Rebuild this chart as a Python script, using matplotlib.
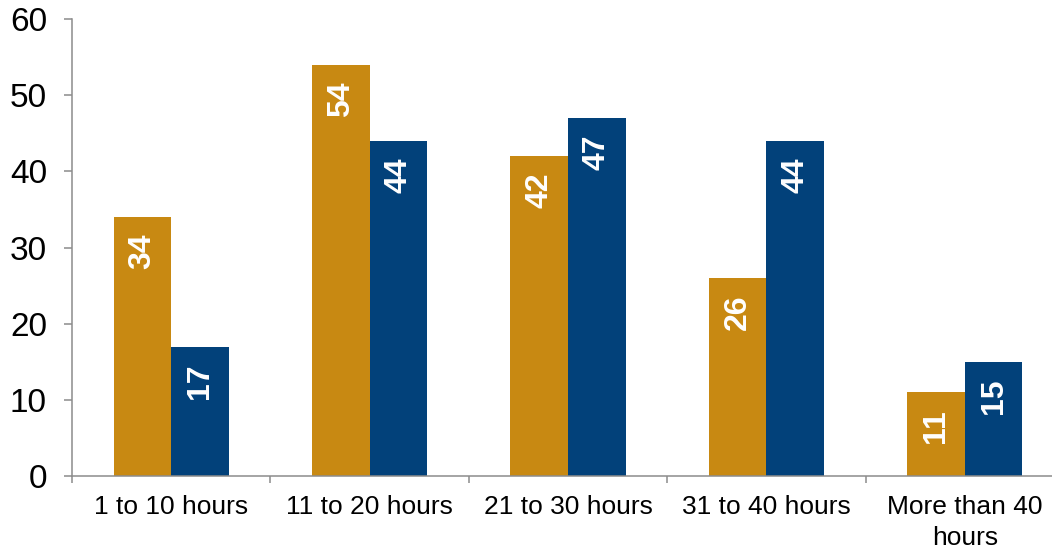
import matplotlib.pyplot as plt
import numpy as np

categories = ['1 to 10 hours', '11 to 20 hours', '21 to 30 hours', '31 to 40 hours', 'More than 40\nhours']
orange_vals = [34, 54, 42, 26, 11]
blue_vals = [17, 44, 47, 44, 15]

orange = '#C88912'
blue = '#02417A'
axis_col = '#8C8C8C'

plt.rcParams['font.family'] = ['Liberation Sans', 'DejaVu Sans']

fig = plt.figure(figsize=(10.52, 5.52), dpi=100)
ax = fig.add_axes([72 / 1052, 76 / 552, 992 / 1052, 457 / 552])

x = np.arange(len(categories))
w = 0.29
b1 = ax.bar(x - w / 2, orange_vals, w, color=orange)
b2 = ax.bar(x + w / 2, blue_vals, w, color=blue)

# value labels, rotated, just inside the top of each bar
for bars, vals in ((b1, orange_vals), (b2, blue_vals)):
    for bar, v in zip(bars, vals):
        ax.annotate(str(v), (bar.get_x() + bar.get_width() / 2, v),
                    xytext=(0, -12), textcoords='offset points',
                    rotation=90, ha='center', va='top',
                    color='white', fontsize=23, fontweight='bold')

ax.set_xlim(-0.5, len(categories) - 0.5)
ax.set_ylim(0, 60)
ax.set_yticks(range(0, 61, 10))
ax.set_xticks(x)
ax.set_xticklabels(categories, fontsize=19, linespacing=1.35)
ax.set_xticks(np.arange(len(categories) + 1) - 0.5, minor=True)
ax.tick_params(axis='x', which='major', length=0, pad=14)
ax.tick_params(axis='x', which='minor', length=5, width=1.1, color=axis_col)
ax.tick_params(axis='y', length=6, width=1.1, color=axis_col, labelsize=24, pad=12)

for s in ('top', 'right'):
    ax.spines[s].set_visible(False)
for s in ('left', 'bottom'):
    ax.spines[s].set_color(axis_col)
    ax.spines[s].set_linewidth(1.1)

fig.savefig('out.png', dpi=100)
